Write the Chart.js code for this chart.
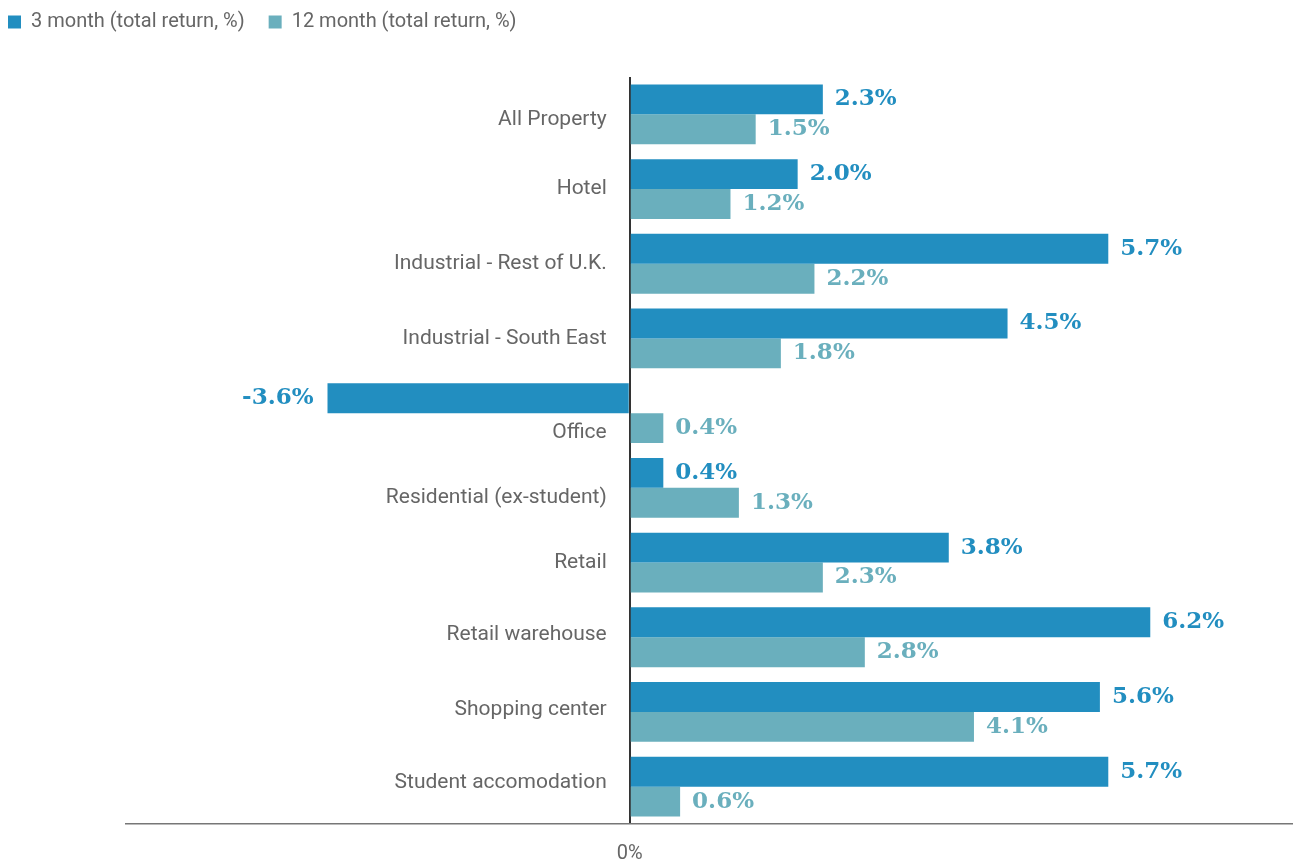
<!DOCTYPE html>
<html><head><meta charset="utf-8">
<script src="https://cdn.jsdelivr.net/npm/chart.js@4.4.1/dist/chart.umd.min.js"></script>
<style>html,body{margin:0;padding:0;background:#fff;} #wrap{width:1293px;height:861px;position:relative;}</style>
</head><body><div id="wrap"><canvas id="c"></canvas></div>
<script>
const categories = ["All Property","Hotel","Industrial - Rest of U.K.","Industrial - South East","Office","Residential (ex-student)","Retail","Retail warehouse","Shopping center","Student accomodation"];
const threeMonth = [2.3, 2.0, 5.7, 4.5, -3.6, 0.4, 3.8, 6.2, 5.6, 5.7];
const twelveMonth = [1.5, 1.2, 2.2, 1.8, 0.4, 1.3, 2.3, 2.8, 4.1, 0.6];
const seriesNames = ["3 month (total return, %)", "12 month (total return, %)"];
const xTickValues = [0];
const xTickLabels = ["0%"];

// style: vertical nudge (px) of each category label, as in the original layout
const labelShift = [5, 0, 0, 0, 20, 10, 0, -3, -2, -4];

const C3 = '#228EC0', C12 = '#6AAFBD';
const GRAY = '#666';
const LABEL_SIZE = 21;

const valueLabels = {
  id: 'valueLabels',
  afterDatasetsDraw(chart) {
    const ctx = chart.ctx;
    ctx.save();
    ctx.font = 'bold 23px "DejaVu Serif"';
    ctx.textBaseline = 'middle';
    chart.data.datasets.forEach((ds, i) => {
      const meta = chart.getDatasetMeta(i);
      meta.data.forEach((bar, j) => {
        const v = ds.data[j];
        const txt = v.toFixed(1) + '%';
        ctx.fillStyle = ds.backgroundColor;
        if (v >= 0) { ctx.textAlign = 'left'; ctx.fillText(txt, bar.x + 12, bar.y); }
        else { ctx.textAlign = 'right'; ctx.fillText(txt, bar.x - 14, bar.y); }
      });
    });
    ctx.restore();
  }
};

new Chart(document.getElementById('c'), {
  type: 'bar',
  data: {
    labels: categories,
    datasets: [
      { label: seriesNames[0], data: threeMonth, backgroundColor: C3, borderWidth: 0, categoryPercentage: 0.8, barPercentage: 1.0 },
      { label: seriesNames[1], data: twelveMonth, backgroundColor: C12, borderWidth: 0, categoryPercentage: 0.8, barPercentage: 1.0 }
    ]
  },
  options: {
    indexAxis: 'y',
    responsive: true,
    maintainAspectRatio: false,
    animation: false,
    layout: { padding: { left: -16, right: 0, top: -12, bottom: 0 } },
    plugins: {
      tooltip: { enabled: false },
      legend: {
        display: true,
        position: 'top',
        align: 'start',
        labels: { boxWidth: 13, boxHeight: 13, padding: 24, color: GRAY, font: { family: 'Roboto', size: 20 } }
      }
    },
    scales: {
      x: {
        type: 'linear', axis: 'x', position: 'bottom', min: -6, max: 7.9,
        grid: { display: true, drawTicks: false, color: '#333', lineWidth: 2 },
        border: { display: true, color: '#777', width: 1.5 },
        afterBuildTicks: s => { s.ticks = xTickValues.map(v => ({ value: v })); },
        afterFit: s => { s.height = 37; },
        ticks: {
          padding: 18, color: GRAY, font: { family: 'Roboto', size: 20 }, autoSkip: false, maxRotation: 0,
          callback: (v) => { const k = xTickValues.indexOf(v); return k >= 0 ? xTickLabels[k] : ''; }
        }
      },
      xTop: {
        type: 'linear', axis: 'x', position: 'top', display: true,
        grid: { display: false, drawTicks: false }, border: { display: false }, ticks: { display: false },
        afterFit: s => { s.height = 35; }
      },
      y: {
        type: 'category', axis: 'y', position: { x: -0.274 },
        grid: { display: false, drawTicks: false },
        border: { display: false },
        ticks: {
          padding: 0, color: GRAY, autoSkip: false,
          font: (c) => {
            const s = labelShift[c.index] || 0;
            return { family: 'Roboto', size: LABEL_SIZE, lineHeight: s ? (Math.abs(s) * 2) / LABEL_SIZE : 1.2 };
          },
          callback: (v, i) => {
            const s = labelShift[i] || 0;
            const name = categories[i];
            if (s > 0) return ['', name];
            if (s < 0) return [name, ''];
            return name;
          }
        }
      },
      yPad: {
        type: 'category', axis: 'y', position: 'left', display: true,
        grid: { display: false, drawTicks: false }, border: { display: false }, ticks: { display: false },
        afterFit: s => { s.width = 142; }
      }
    }
  },
  plugins: [valueLabels]
});
</script>
</body></html>
